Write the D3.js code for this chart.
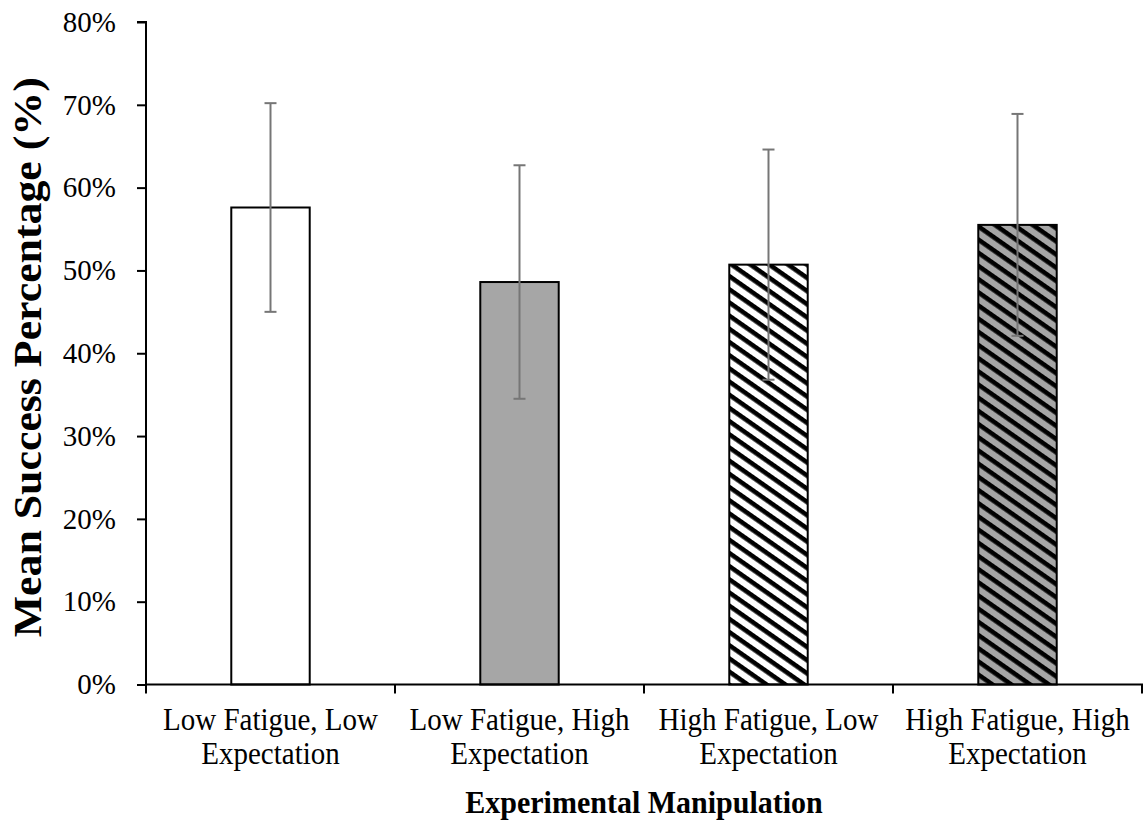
<!DOCTYPE html>
<html>
<head>
<meta charset="utf-8">
<script src="https://cdn.jsdelivr.net/npm/d3@7"></script>
<style>
  html, body { margin: 0; padding: 0; background: #fff; }
  svg { display: block; }
  text { font-family: "Liberation Serif", "Times New Roman", serif; fill: #000; }
</style>
</head>
<body>
<svg id="chart" width="1145" height="823"></svg>
<script>
// ---- data ----
const categories = [
  ["Low Fatigue, Low", "Expectation"],
  ["Low Fatigue, High", "Expectation"],
  ["High Fatigue, Low", "Expectation"],
  ["High Fatigue, High", "Expectation"]
];
const means = [57.6, 48.6, 50.7, 55.5];
const errors = [12.6, 14.1, 13.9, 13.4];
const yTicks = [0, 10, 20, 30, 40, 50, 60, 70, 80];
const yTitle = "Mean Success Percentage (%)";
const xTitle = "Experimental Manipulation";

// ---- layout ----
const plot = { left: 146, right: 1142, top: 22, bottom: 684.5 };
const svg = d3.select("#chart");

const idx = d3.range(categories.length);
const x = d3.scaleBand().domain(idx).range([plot.left, plot.right]).padding(0);
const y = d3.scaleLinear().domain([0, 80]).range([plot.bottom, plot.top]);
const barW = x.bandwidth() * 0.315;

// patterns
const defs = svg.append("defs");
function stripes(id, bg) {
  const p = defs.append("pattern")
    .attr("id", id)
    .attr("patternUnits", "userSpaceOnUse")
    .attr("width", 20).attr("height", 10.8)
    .attr("patternTransform", "rotate(35)");
  p.append("rect").attr("width", 20).attr("height", 10.8).attr("fill", bg);
  p.append("rect").attr("y", 0).attr("width", 20).attr("height", 4.6).attr("fill", "#000");
}
stripes("stripeWhite", "#ffffff");
stripes("stripeGray", "#a6a6a6");
const fills = ["#ffffff", "#a6a6a6", "url(#stripeWhite)", "url(#stripeGray)"];

// bars
svg.append("g").selectAll("rect")
  .data(idx)
  .join("rect")
  .attr("x", i => x(i) + x.bandwidth() / 2 - barW / 2)
  .attr("y", i => y(means[i]))
  .attr("width", barW)
  .attr("height", i => y(0) - y(means[i]))
  .attr("fill", i => fills[i])
  .attr("stroke", "#000")
  .attr("stroke-width", 2);

// error bars
const eg = svg.append("g").attr("stroke", "#767676").attr("stroke-width", 2);
idx.forEach(i => {
  const cx = x(i) + x.bandwidth() / 2;
  const top = y(means[i] + errors[i]), bot = y(means[i] - errors[i]);
  eg.append("line").attr("x1", cx).attr("x2", cx).attr("y1", top).attr("y2", bot);
  eg.append("line").attr("x1", cx - 6).attr("x2", cx + 6).attr("y1", top).attr("y2", top);
  eg.append("line").attr("x1", cx - 6).attr("x2", cx + 6).attr("y1", bot).attr("y2", bot);
});

// y axis
const yAxis = d3.axisLeft(y).tickValues(yTicks).tickSize(9).tickPadding(21)
  .tickFormat(d => d + "%");
const yg = svg.append("g").attr("transform", `translate(${plot.left},0)`).call(yAxis);
yg.select(".domain").attr("stroke", "#000").attr("stroke-width", 2)
  .attr("d", `M-9,${plot.top}H0V${plot.bottom}`);
yg.selectAll(".tick line").attr("stroke", "#000").attr("stroke-width", 2);
yg.selectAll(".tick text").attr("font-size", 29).attr("font-family", "Liberation Serif");

// x axis
const xg = svg.append("g");
xg.append("line").attr("x1", plot.left).attr("x2", plot.right + 1)
  .attr("y1", plot.bottom).attr("y2", plot.bottom)
  .attr("stroke", "#000").attr("stroke-width", 2);
const bounds = idx.map(i => x(i)).concat([plot.right]);
xg.selectAll("line.tk").data(bounds).join("line").attr("class", "tk")
  .attr("x1", d => d).attr("x2", d => d)
  .attr("y1", plot.bottom).attr("y2", plot.bottom + 9)
  .attr("stroke", "#000").attr("stroke-width", 2);
const lab = xg.selectAll("g.cat").data(idx).join("g").attr("class", "cat")
  .attr("transform", i => `translate(${x(i) + x.bandwidth() / 2},0)`);
lab.append("text").attr("text-anchor", "middle").attr("font-size", 29)
  .attr("transform", "translate(0,730) scale(1,1.1)").text(i => categories[i][0]);
lab.append("text").attr("text-anchor", "middle").attr("font-size", 29)
  .attr("transform", "translate(0,764) scale(1,1.1)").text(i => categories[i][1]);

// titles
svg.append("text").attr("text-anchor", "middle").attr("font-weight", "bold")
  .attr("font-size", 30)
  .attr("transform", `translate(${(plot.left + plot.right) / 2},813) scale(1,1.05)`)
  .text(xTitle);
svg.append("text").attr("text-anchor", "middle").attr("font-weight", "bold")
  .attr("font-size", 40)
  .attr("textLength", 560).attr("lengthAdjust", "spacingAndGlyphs")
  .attr("transform", `translate(41,${(plot.top + plot.bottom) / 2 + 4}) rotate(-90)`)
  .text(yTitle);
</script>
</body>
</html>
